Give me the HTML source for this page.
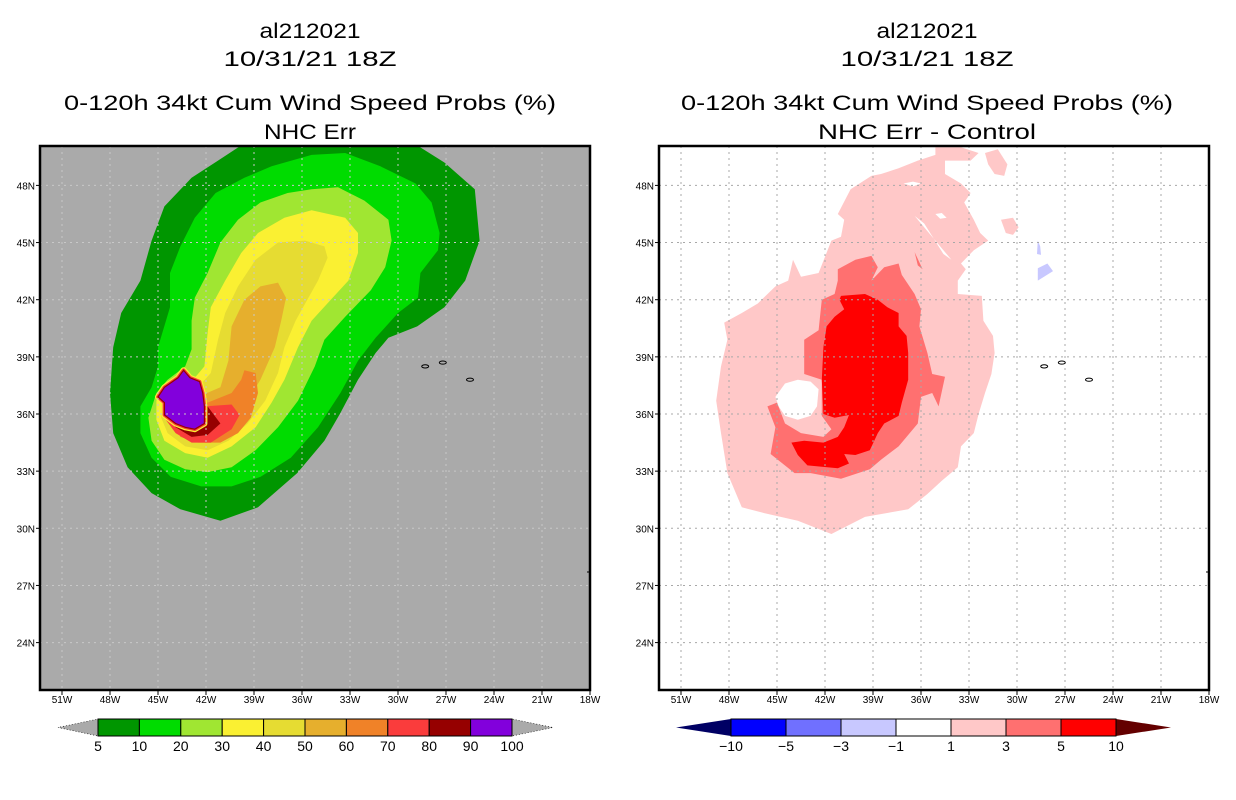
<!DOCTYPE html>
<html><head><meta charset="utf-8"><style>
html,body{margin:0;padding:0;background:#fff;}
svg{display:block;font-family:"Liberation Sans",sans-serif;}
</style></head><body>
<svg id="fig" width="1236" height="800" viewBox="0 0 1236 800"></svg>
<script>
// ---------- data (lonW, latN) ----------
const lonTicks=[51,48,45,42,39,36,33,30,27,24,21,18];
const latTicks=[48,45,42,39,36,33,30,27,24];
const probLevels=["5","10","20","30","40","50","60","70","80","90","100"];
const probColors=["#009600","#00dc00","#a0e632","#faf032","#e6dc32","#e6af2d","#f08228","#fa3c3c","#960000","#8200dc"];
const diffLevels=["-10","-5","-3","-1","1","3","5","10"];
const diffColors=["#0000ff","#7070ff","#c8c8ff","#ffffff","#ffc8c8","#ff7070","#ff0000"];
const p5=[[39.8,50.1],[28.8,50.1],[27.1,49.2],[25.2,47.8],[24.9,45.1],[25.8,43.0],[27.1,41.6],[28.8,40.6],[30.6,40.0],[31.4,39.2],[32.5,37.8],[33.6,36.05],[34.6,34.6],[36.3,32.9],[38.75,31.1],[41.1,30.4],[43.6,31.0],[45.4,31.85],[46.9,33.2],[47.8,35.0],[48.0,37.1],[47.8,39.5],[47.3,41.3],[46.1,43.0],[45.4,45.1],[44.6,46.9],[42.9,48.4],[41.25,49.3]];
const p10=[[35.4,49.6],[33.3,49.7],[31.1,49.0],[28.9,48.1],[27.9,47.1],[27.4,45.5],[27.5,44.6],[28.6,43.4],[28.75,42.1],[30.0,41.3],[31.4,40.0],[32.5,38.8],[33.6,37.1],[35.0,35.3],[36.7,33.7],[38.6,32.7],[40.4,32.2],[42.3,32.2],[44.2,32.7],[45.4,33.7],[46.1,35.0],[46.1,36.4],[45.4,37.4],[45.0,38.5],[45.0,39.5],[44.25,41.6],[44.25,43.4],[43.6,44.8],[42.7,46.3],[41.4,47.6],[39.6,48.4],[37.9,49.0]];
const p20=[[35.4,47.8],[33.75,47.9],[32.1,47.2],[30.6,46.2],[30.4,45.1],[30.8,43.7],[31.7,42.5],[33.3,41.1],[34.6,39.9],[35.2,38.5],[36.25,36.7],[37.5,35.3],[38.9,34.1],[40.4,33.2],[41.9,32.95],[43.3,33.1],[44.6,33.6],[45.4,34.6],[45.6,35.8],[45.1,37.1],[44.4,37.8],[43.3,38.5],[42.9,39.4],[42.9,40.9],[42.7,42.1],[41.9,43.4],[41.1,45.0],[40.0,46.2],[38.6,47.1],[36.9,47.6]];
const p30=[[35.4,46.7],[33.3,46.3],[32.5,45.5],[32.5,44.45],[33.1,43.0],[34.2,42.0],[35.4,40.9],[36.25,39.5],[37.1,37.8],[37.9,36.6],[38.9,35.3],[40.4,34.3],[41.9,33.7],[43.3,33.95],[44.6,34.6],[45.1,35.7],[45.1,36.7],[44.6,37.4],[42.7,37.9],[42.1,38.5],[41.9,40.25],[41.7,41.6],[40.8,43.0],[39.8,44.45],[38.75,45.5],[37.1,46.3]];
const p40=[[35.8,45.1],[34.6,44.8],[34.4,44.2],[35.0,43.0],[35.8,41.8],[36.4,40.9],[37.1,39.5],[37.5,38.15],[38.3,36.7],[39.4,35.5],[40.6,34.6],[41.9,34.1],[43.3,34.3],[44.4,35.0],[44.8,35.8],[44.8,36.6],[43.9,37.1],[42.5,37.4],[41.7,38.15],[41.25,39.9],[40.8,41.3],[40.0,42.7],[38.9,44.1],[37.5,45.0]];
const p50=[[37.5,42.9],[37.0,42.1],[37.3,40.9],[37.7,39.5],[38.6,37.8],[39.6,36.4],[40.8,35.3],[42.3,35.0],[43.3,35.2],[43.9,35.7],[43.75,36.4],[42.5,36.9],[41.1,37.4],[40.6,38.8],[40.4,40.6],[39.6,42.0],[38.6,42.7]];
const p60=[[39.6,38.3],[38.9,38.15],[38.75,37.1],[39.2,35.8],[40.0,35.0],[41.1,34.5],[42.5,34.5],[43.6,34.8],[43.9,35.3],[43.6,35.8],[41.9,36.6],[40.4,37.1],[39.8,37.8]];
const p70=[[40.4,36.5],[39.9,35.95],[40.4,35.2],[41.7,34.5],[42.9,34.5],[43.9,35.0],[44.6,35.8],[44.4,36.6],[43.6,36.6],[42.1,36.4]];
const p80=[[41.9,36.4],[41.1,35.5],[41.9,34.9],[42.9,34.8],[43.9,35.3],[44.6,36.05],[44.2,36.4],[42.5,36.6]];
const p90=[[43.4,38.3],[43.0,37.9],[42.4,37.7],[42.2,37.1],[42.1,36.4],[42.1,35.5],[42.7,35.2],[43.3,35.3],[43.9,35.5],[44.6,35.95],[44.6,36.6],[45.0,36.9],[44.6,37.4],[43.75,37.9]];
const probShapes=[p5,p10,p20,p30,p40,p50,p60,p70,p80,p90];
const d1=[[35.1,50.0],[33.5,50.0],[32.4,49.7],[32.9,49.3],[34.5,49.3],[34.5,48.6],[33.5,48.1],[32.9,47.6],[33.3,47.1],[32.7,46.2],[32.3,45.5],[31.8,45.1],[32.7,44.6],[33.5,43.9],[33.2,43.6],[33.7,43.0],[33.7,42.3],[32.2,42.2],[32.1,40.9],[31.5,40.1],[31.4,39.2],[31.6,38.1],[32.0,37.1],[32.4,36.0],[32.7,35.0],[33.5,34.3],[33.7,33.2],[34.7,32.5],[35.6,31.8],[36.8,31.0],[39.5,30.6],[41.6,29.7],[43.7,30.4],[45.8,30.8],[47.2,31.1],[48.1,32.9],[48.5,35.0],[48.8,36.7],[48.5,38.5],[48.1,39.9],[48.3,40.8],[47.2,41.3],[46.2,41.8],[45.1,42.7],[44.3,43.0],[44.0,44.1],[43.5,43.2],[42.4,43.4],[41.6,45.1],[41.0,45.3],[40.8,46.2],[41.2,46.5],[40.4,47.8],[39.1,48.5],[38.5,48.6],[37.4,48.9],[36.2,49.3],[35.1,49.6]];
const d1b=[[32.0,49.7],[31.2,49.9],[30.6,49.1],[30.8,48.5],[31.4,48.6],[31.8,49.1]];
const d1c=[[31.0,46.2],[30.25,46.3],[29.9,45.8],[30.25,45.4],[30.7,45.5]];
const hole1=[[37.1,48.1],[36.5,48.2],[36.0,48.1],[36.5,47.95]];
const hole2=[[35.1,46.5],[34.7,46.55],[34.4,46.3],[34.8,46.25]];
const hole3=[[36.4,46.4],[35.6,45.6],[34.5,44.5],[34.1,44.1],[34.6,44.4],[35.2,45.2],[35.8,46.0]];
const hole4=[[45.1,36.9],[44.5,37.6],[43.7,37.8],[42.9,37.7],[42.4,37.3],[42.5,36.4],[42.9,35.9],[43.7,35.7],[44.5,35.9],[44.9,36.4]];
const d3=[[41.2,43.6],[40.1,44.1],[39.1,44.3],[38.7,43.7],[39.1,43.0],[38.3,43.7],[37.4,43.9],[37.2,43.3],[36.4,42.3],[36.0,41.5],[36.1,40.6],[35.6,39.2],[35.3,38.1],[34.5,37.96],[34.9,36.4],[35.3,37.1],[36.0,36.9],[36.2,35.5],[37.4,34.3],[38.5,33.6],[39.2,33.1],[41.0,32.6],[42.9,32.9],[43.9,32.9],[45.4,33.9],[45.1,35.3],[45.6,36.4],[45.0,36.6],[44.5,35.5],[43.5,35.0],[42.1,34.8],[41.6,35.2],[42.2,35.9],[42.2,37.8],[43.3,38.1],[43.3,39.9],[42.4,40.4],[42.2,42.0],[41.4,42.3],[41.2,43.0]];
const d3b=[[36.4,44.5],[35.9,43.6],[36.2,43.8]];
const d5=[[41.0,42.2],[39.5,42.3],[38.7,42.0],[38.1,41.6],[37.4,41.3],[37.4,40.6],[36.9,40.1],[36.8,39.2],[36.8,37.8],[37.2,36.6],[37.4,35.9],[38.3,35.5],[38.7,35.0],[39.2,34.1],[40.1,33.85],[40.8,33.9],[40.5,33.4],[41.2,33.15],[43.1,33.3],[43.7,33.85],[44.1,34.5],[43.3,34.6],[42.1,34.5],[41.2,34.8],[40.8,35.3],[40.5,35.95],[41.4,35.8],[42.1,36.0],[42.2,37.8],[42.1,39.5],[41.9,40.6],[41.4,41.1],[40.8,41.5],[41.1,42.0]];
const dm1a=[[28.7,45.1],[28.55,44.8],[28.5,44.35],[28.75,44.4]];
const dm1b=[[28.7,43.65],[28.1,43.9],[27.75,43.5],[28.7,43.0]];
const islands=[[28.3,38.5],[27.2,38.7],[25.5,37.8]];

// ---------- drawing ----------
const NS="http://www.w3.org/2000/svg";
const svg=document.getElementById('fig');
function el(tag,attrs,parent){const e=document.createElementNS(NS,tag);for(const k in attrs)e.setAttribute(k,attrs[k]);(parent||svg).appendChild(e);return e;}
const FT=146,FB=690;
function mkX(x18){return lon=>x18-(lon-18)*16;}
function yLat(lat){return 414-(lat-36)*19.05;}
function pts(arr,X){return arr.map(p=>X(p[0]).toFixed(1)+','+yLat(p[1]).toFixed(1)).join(' ');}

function panel(key,left,x18,bg,center,sub,subW){
  const X=mkX(x18), right=x18, W=right-left;
  const g=el('g',{});
  
  
  const titles=[["al212021",38,101],["10/31/21 18Z",66,173],["0-120h 34kt Cum Wind Speed Probs (%)",110,492],[sub,139,subW]];
  titles.forEach((t,i)=>{const tx=el('text',{x:center,y:t[1],'text-anchor':'middle','font-size':21,fill:'#000',textLength:t[2],lengthAdjust:'spacingAndGlyphs'},g);
    
    
    tx.textContent=t[0];});
  const cp=el('clipPath',{id:'clip'+key},g);el('rect',{x:left,y:FT,width:W,height:FB-FT},cp);
  const bgr=el('rect',{x:left,y:FT,width:W,height:FB-FT,fill:bg},g);
  
  
  const mg=el('g',{'clip-path':'url(#clip'+key+')'},g);
  return {g,mg,X,left,right};
}
function grid(P,color){
  lonTicks.forEach(l=>{const x=P.X(l);if(x>P.left+1&&x<P.right-1){const ln=el('line',{x1:x,x2:x,y1:FT,y2:FB,stroke:color,'stroke-width':1,'stroke-dasharray':'2,4'},P.mg);}});
  latTicks.forEach(l=>{const y=yLat(l);const ln=el('line',{x1:P.left,x2:P.right,y1:y,y2:y,stroke:color,'stroke-width':1,'stroke-dasharray':'2,4'},P.mg);});
}
function axes(P){
  const fr=el('rect',{x:P.left,y:FT,width:P.right-P.left,height:FB-FT,fill:'none',stroke:'#000','stroke-width':2.5},P.g);
  
  
  lonTicks.forEach(l=>{const x=P.X(l);
    el('line',{x1:x,x2:x,y1:FB,y2:FB+5,stroke:'#000','stroke-width':1},P.g);
    const t=el('text',{x:x,y:FB+13,'text-anchor':'middle','font-size':10,fill:'#000'},P.g);
    
    
    t.textContent=l+'W';});
  latTicks.forEach(l=>{const y=yLat(l);
    el('line',{x1:P.left-4,x2:P.left,y1:y,y2:y,stroke:'#000','stroke-width':1},P.g);
    const t=el('text',{x:P.left-5,y:y+4,'text-anchor':'end','font-size':10,fill:'#000'},P.g);
    
    
    t.textContent=l+'N';});
  el('line',{x1:P.right,x2:P.right-3,y1:572,y2:572,stroke:'#000','stroke-width':1},P.g);
}
function drawIslands(P){
  islands.forEach(p=>{const e=el('ellipse',{cx:P.X(p[0]),cy:yLat(p[1]),rx:3.5,ry:1.6,fill:'none',stroke:'#000','stroke-width':1},P.mg);
    
    });
}

// Left panel
const L=panel('left',40,590,'#aaaaaa',310,'NHC Err',92);
probShapes.forEach((s,i)=>{
  if(i===9){
    const r=el('polygon',{points:pts(s,L.X),fill:'none',stroke:'#faf032','stroke-width':6,'stroke-linejoin':'round'},L.mg);
    
    
    const r2=el('polygon',{points:pts(s,L.X),fill:'none',stroke:'#fa3c3c','stroke-width':3.5,'stroke-linejoin':'round'},L.mg);
    
    
  }
  const pg=el('polygon',{points:pts(s,L.X),fill:probColors[i],stroke:i===9?'#960000':'none','stroke-width':1.2},L.mg);
  
  
});
grid(L,'#c8c8c8');
drawIslands(L);
axes(L);

// Right panel
const R=panel('right',659,1209,'#ffffff',927,'NHC Err - Control',218);
[[d1,'#ffc8c8','diff-1'],[d1b,'#ffc8c8','diff-1'],[d1c,'#ffc8c8','diff-1'],[hole1,'#ffffff','diff-hole'],[hole2,'#ffffff','diff-hole'],[hole3,'#ffffff','diff-hole'],[hole4,'#ffffff','diff-hole'],[d3,'#ff7070','diff-3'],[d3b,'#ff7070','diff-3'],[d5,'#ff0000','diff-5'],[dm1a,'#c8c8ff','diff-minus1'],[dm1b,'#c8c8ff','diff-minus1']].forEach(s=>{
  const pg=el('polygon',{points:pts(s[0],R.X),fill:s[1]},R.mg);
  
  
});
grid(R,'#a8a8a8');
drawIslands(R);
axes(R);

// Colorbars
function colorbar(key,x0,x1,tl,tr,levels,colors,lc,rc){
  const g=el('g',{});
  
  
  const y0=719,y1=736,ym=727.5,n=colors.length,w=(x1-x0)/n;
  const a=el('polygon',{points:`${x0},${y0} ${x0},${y1} ${tl},${ym}`,fill:lc,stroke:lc==='#aaaaaa'?'#000':'none','stroke-width':0.6,'stroke-dasharray':lc==='#aaaaaa'?'1,2':''},g);
  
  
  const b=el('polygon',{points:`${x1},${y0} ${x1},${y1} ${tr},${ym}`,fill:rc,stroke:rc==='#aaaaaa'?'#000':'none','stroke-width':0.6,'stroke-dasharray':rc==='#aaaaaa'?'1,2':''},g);
  
  
  colors.forEach((c,i)=>{const r=el('rect',{x:x0+i*w,y:y0,width:w,height:y1-y0,fill:c,stroke:'#000','stroke-width':1},g);
    
    });
  levels.forEach((l,i)=>{const t=el('text',{x:x0+i*w,y:751,'text-anchor':'middle','font-size':14,fill:'#000'},g);
    
    
    t.textContent=l.replace('-','\u2212');});
}
colorbar('prob',98,512,58,553,probLevels,probColors,'#aaaaaa','#aaaaaa');
colorbar('diff',731,1116,676,1171,diffLevels,diffColors,'#000064','#640000');
</script>
</body></html>
